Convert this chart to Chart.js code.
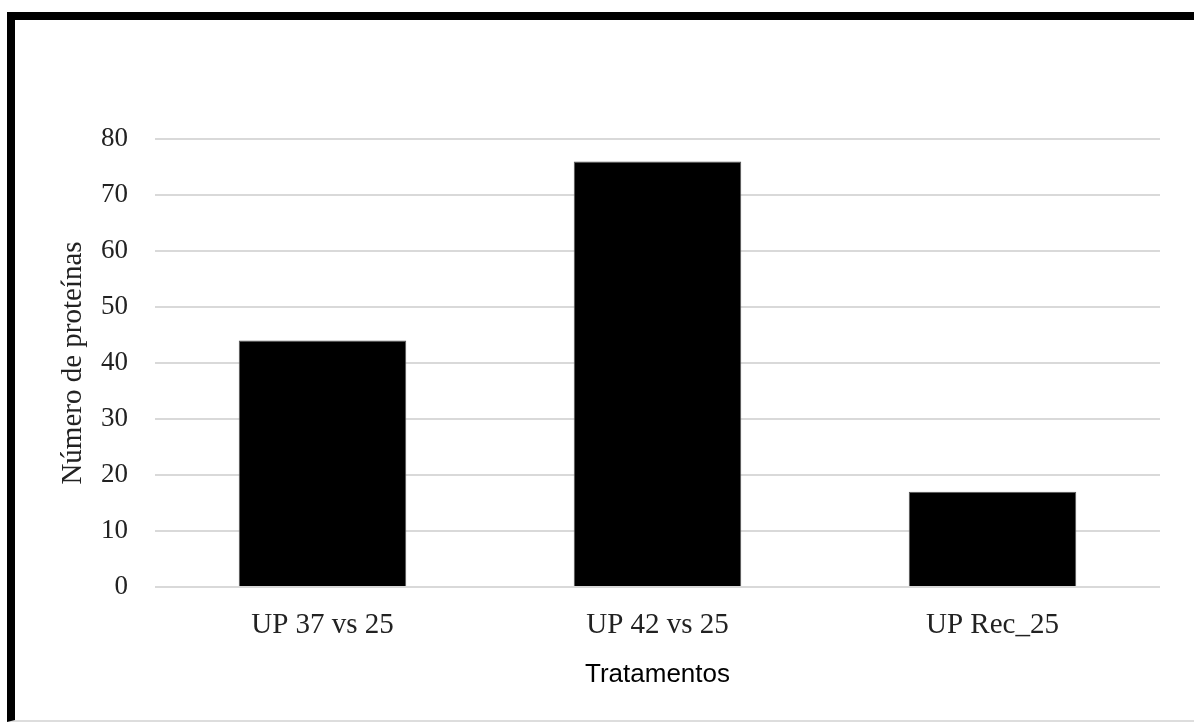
<!DOCTYPE html>
<html>
<head>
<meta charset="utf-8">
<script src="https://cdn.jsdelivr.net/npm/chart.js@4"></script>
<style>
  body { margin: 0; background: #fff; }
  #frame {
    position: absolute; left: 7px; top: 12px;
    width: 1200px; height: 700px;
    border-left: 8px solid #000; border-top: 8px solid #000;
    border-bottom: 2px solid #ddd;
  }
  #wrap { width: 1179px; height: 700px; }
</style>
</head>
<body>
<div id="frame"><div id="wrap"><canvas id="proteinChart"></canvas></div></div>
<script>
const categories = ['UP 37 vs 25', 'UP 42 vs 25', 'UP Rec_25'];
const proteinCounts = [44, 76, 17];
const yTicksMax = 80;

const ctx = document.getElementById('proteinChart');

const data = {
    labels: categories,
    datasets: [{
        label: 'Número de proteínas',
        data: proteinCounts,
        backgroundColor: '#000',
        borderColor: '#555',
        borderWidth: 1,
        categoryPercentage: 1,
        barPercentage: 0.5
    }]
};

const config = {
    type: 'bar',
    data,
    options: {
        responsive: true,
        maintainAspectRatio: false,
        animation: false,
        layout: { padding: { top: 119, right: 34, left: 0, bottom: 0 } },
        scales: {
            x: {
                grid: { display: false, drawTicks: false },
                border: { display: false },
                ticks: {
                    color: '#222',
                    padding: 21,
                    font: { family: 'Liberation Serif', size: 29 }
                },
                title: {
                    display: true,
                    text: 'Tratamentos',
                    color: '#000',
                    padding: { top: 4, bottom: 30 },
                    font: { family: 'Liberation Sans', size: 26 }
                },
                afterFit: (scale) => { scale.height = 133; }
            },
            y: {
                min: 0,
                max: yTicksMax,
                grid: { color: '#d9d9d9', lineWidth: 2, drawTicks: false },
                border: { display: false },
                ticks: {
                    stepSize: 10,
                    color: '#222',
                    padding: 27,
                    font: { family: 'Liberation Serif', size: 27 }
                },
                title: {
                    display: true,
                    text: 'Número de proteínas',
                    color: '#222',
                    padding: { top: 41, bottom: 0 },
                    font: { family: 'Liberation Serif', size: 29 }
                },
                afterFit: (scale) => { scale.width = 140; }
            }
        },
        plugins: {
            legend: { display: false },
            tooltip: { enabled: false }
        }
    }
};

const proteinChart = new Chart(ctx, config);
</script>
</body>
</html>
